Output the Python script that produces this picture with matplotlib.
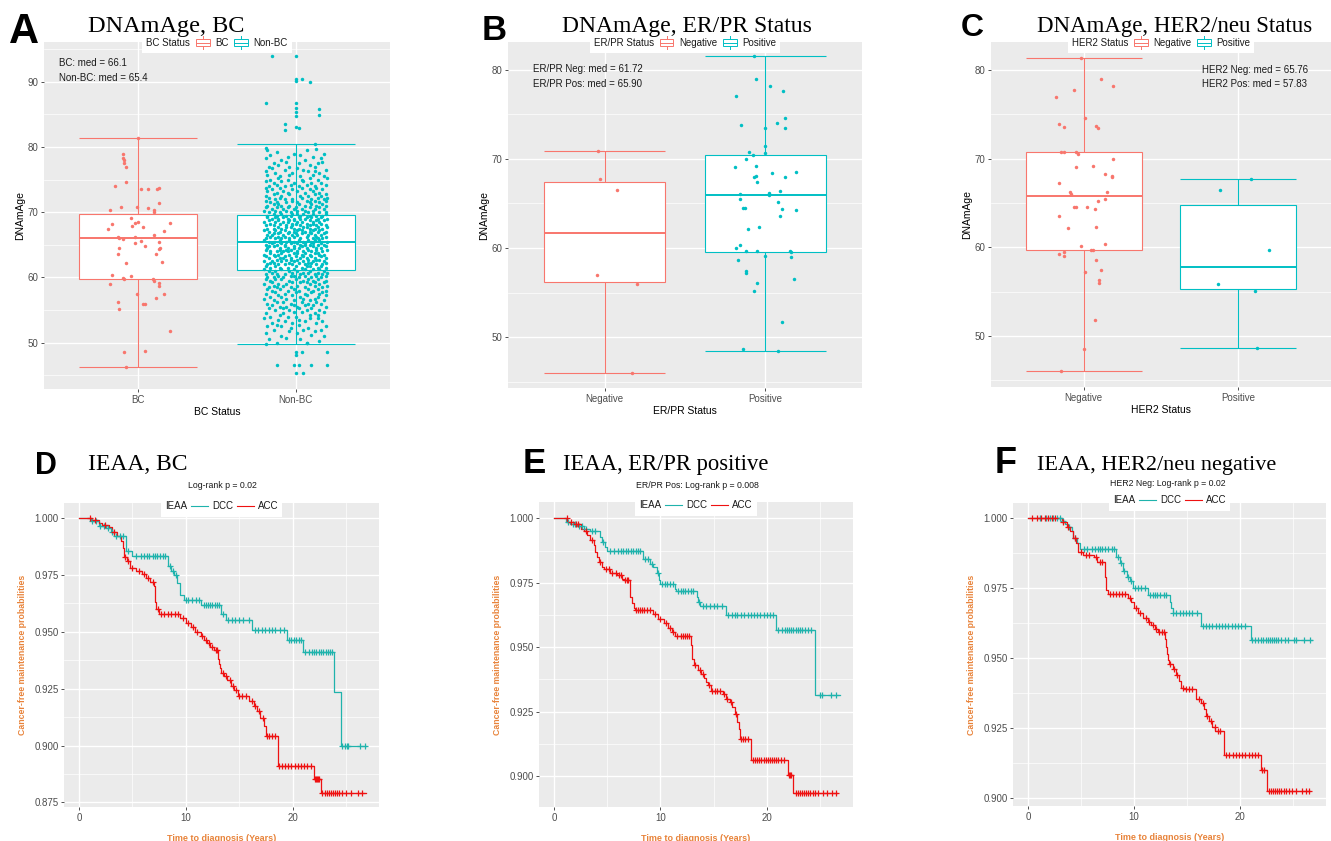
import numpy as np
import matplotlib.pyplot as plt
from matplotlib.patches import Rectangle
from matplotlib.lines import Line2D
from matplotlib.offsetbox import HPacker, TextArea, DrawingArea, AnchoredOffsetbox

W, H = 1331, 841
RED, TEAL = '#F8766D', '#00BFC4'
KM_TEAL, KM_RED = '#1FB3AC', '#EE1111'
ORANGE = '#E8833A'
SANS = ['Liberation Sans', 'DejaVu Sans']
SERIF = ['Liberation Serif', 'DejaVu Serif']

# ---------------- panel A: DNAmAge by BC status ----------------
a_cats = ['BC', 'Non-BC']
# (lower whisker, Q1, median, Q3, upper whisker)
a_stats = [(46.2, 59.7, 66.1, 69.8, 81.4), (49.8, 61.2, 65.4, 69.6, 80.4)]
a_bc_pts = [(0, 81.4), (-0.1, 79.0), (-0.1, 78.3), (-0.09, 78.0), (-0.09, 77.5), (-0.08, 77.0),
            (-0.08, 74.6), (-0.15, 74.0), (0.015, 73.5), (0.06, 73.5), (0.13, 73.7), (0.12, 73.5),
            (0.13, 71.4), (-0.11, 70.8), (-0.01, 70.8), (0.06, 70.7), (-0.18, 70.3), (0.1, 70.3),
            (0.1, 70.0), (-0.05, 69.1), (0, 68.5), (-0.02, 68.3), (-0.17, 68.2), (0.2, 68.4),
            (-0.04, 67.9), (0.03, 67.8), (-0.19, 67.5), (0.16, 67.2), (0.1, 66.5), (-0.13, 66.2),
            (-0.12, 66.0), (-0.02, 66.2), (-0.1, 65.9), (0.015, 65.6), (-0.02, 65.3), (0.13, 65.5),
            (0.04, 64.8), (-0.12, 64.5), (0.14, 64.5), (0.13, 64.3), (-0.13, 63.6), (0.11, 63.6),
            (-0.08, 62.2), (0.15, 62.3), (-0.17, 60.4), (-0.05, 60.2), (-0.1, 59.9), (-0.09, 59.8),
            (0.09, 59.7), (0.1, 59.5), (0.13, 59.2), (-0.18, 59.0), (0.13, 58.7), (-0.01, 57.5),
            (0.16, 57.4), (0.11, 56.9), (-0.13, 56.3), (0.03, 56.0), (0.04, 56.0), (-0.12, 55.2),
            (0.2, 51.8), (0.04, 48.8), (-0.09, 48.5), (-0.08, 46.2)]
# Non-BC cloud: DNAmAge value -> jitter offsets (hundredths of a category width)
a_nonbc_rows = {
    50.0: "-12 7", 50.25: "15", 50.5: "3 -17", 50.75: "-6", 51.0: "18 -9", 51.25: "10",
    51.5: "-19 1", 51.75: "-4 12", 52.0: "-14 5 16", 52.25: "-3 8", 52.5: "-9 19 -18",
    52.75: "2 -12", 53.0: "-2 13 -15", 53.25: "6 -7 17", 53.5: "-11 2", 53.75: "-20 9 14",
    54.0: "-5 -16 0", 54.25: "9 14 -10", 54.5: "12 -8 -19", 54.75: "4 18 -1",
    55.0: "-13 7 15 -4", 55.25: "-17 2 10 -8", 55.5: "1 -10 19 -6", 55.75: "11 -15 6 -1",
    56.0: "-18 -3 8 16", 56.25: "-12 13 4 -8", 56.5: "9 -14 -1 18", 56.75: "5 -20 12 -6",
    57.0: "-9 3 14 -16", 57.25: "-2 19 7 -11", 57.5: "15 -7 -19 6", 57.75: "0 10 -13 17",
    58.0: "-15 2 11 -5 19", 58.25: "-10 8 -18 14 -1", 58.5: "6 -12 17 -3 -17",
    58.75: "12 1 -8 20 -14", 59.0: "-20 -6 9 15 -11", 59.25: "3 -2 18 -15 7 12",
    59.5: "11 -16 -4 5 19", 59.75: "-9 14 -19 0 8 -13", 60.0: "-8 16 -14 2 10 -18",
    60.25: "6 -3 13 -11 19 -1", 60.5: "3 -19 12 -7 17 -12", 60.75: "-2 8 20 -15 5 14",
    61.0: "-13 9 -4 18 -17 1", 61.25: "11 -9 15 -20 6 -1", 61.5: "14 -10 4 -16 19 -5",
    61.75: "9 -13 0 16 -19 7", 62.0: "-11 6 17 -18 -2 13 -7", 62.25: "10 2 -14 19 -4 8 -16",
    62.5: "18 -15 -1 11 -9 5 -20", 62.75: "15 -6 8 1 -12 13 -3",
    63.0: "-3 12 -17 7 19 -10 3 -8", 63.25: "-13 16 -7 -19 10 0 5",
    63.5: "9 -20 15 -4 4 -14 18 -11", 63.75: "-9 -1 12 -16 6 14 1",
    64.0: "-16 1 10 -8 17 -12 5 -5", 64.25: "-19 13 -3 20 -6 8 -10",
    64.5: "13 -5 -18 7 -10 16 2 -1", 64.75: "-14 11 -1 19 -7 4 -17",
    65.0: "-7 18 -12 3 -19 9 14 6", 65.25: "-3 -15 6 -9 16 1 11",
    65.5: "5 -14 20 -6 10 -17 -1 -10", 65.75: "15 -10 8 -20 12 2 -4",
    66.0: "-19 11 -4 17 -9 3 -13 14", 66.25: "7 19 -16 13 -1 -7 -11",
    66.5: "16 -2 -15 8 -8 12 -18 1", 66.75: "4 -11 18 0 -5 10 -14",
    67.0: "-10 6 14 -17 19 -4 9 -1", 67.25: "-13 1 -20 15 -7 11 4",
    67.5: "2 -18 12 -9 17 -1 -14 9", 67.75: "7 20 -6 5 -11 14 -3",
    68.0: "-14 19 -6 9 -19 3 13 -2", 68.25: "-10 -2 16 -16 7 0 11",
    68.5: "11 -8 -20 4 15 -13 1 -5", 68.75: "18 -4 -17 9 -11 13 -1",
    69.0: "-5 14 -11 20 -15 6 -1 3", 69.25: "10 -18 2 16 -8 7 -13",
    69.5: "17 -12 3 -18 9 -6 13 -3", 69.75: "-2 19 -14 5 -9 11 1",
    70.0: "-17 8 -3 15 -10 19", 70.25: "-13 1 11 -20 6 -6", 70.5: "4 -15 18 -8 12 -1",
    70.75: "-19 9 -12 15 0 -5", 71.0: "-9 13 -18 6 19 -4", 71.25: "-14 10 2 -11 17",
    71.5: "15 -6 -16 1 9 -12", 71.75: "19 -2 -19 7 12", 72.0: "-2 18 -13 10 -7",
    72.25: "4 -17 14 -10 20", 72.5: "8 -19 3 16 -9", 72.75: "-4 12 -14 19",
    73.0: "-12 6 15 -5", 73.25: "-18 11 1 -8", 73.5: "17 -2 -15 9", 73.75: "-10 4 13 -19",
    74.0: "-7 12 -17 2", 74.25: "19 -12 7 -3", 74.5: "10 -14 -1 16", 74.75: "-9 5 -19",
    75.0: "-16 4 14 -5", 75.25: "20 -11 9", 75.5: "3 -10 18", 75.75: "-18 11 -4",
    76.0: "-13 15 -2", 76.25: "8 -19 12", 76.5: "19 -7 5", 76.75: "-15 1",
    77.0: "-4 12 -17", 77.25: "9 -11", 77.5: "14 -14 2", 77.75: "17 -6",
    78.0: "-9 6", 78.25: "-19 16", 78.5: "11 -5", 78.75: "-16 3",
    79.0: "-1 18", 79.25: "-12", 79.5: "7 -18", 79.75: "13",
}
a_nonbc_extra = [(-0.15, 93.9), (0, 93.9), (0, 90.5), (0, 90.1), (0.04, 90.4), (0.09, 89.9),
                 (-0.19, 86.7), (0, 86.7), (0, 86.0), (0, 85.4), (0, 84.8), (0.15, 85.8),
                 (0.15, 84.9), (-0.07, 83.5), (0, 83.1), (0.02, 82.9), (-0.07, 82.6), (0.12, 80.4),
                 (-0.19, 79.9), (-0.19, 49.8), (0.07, 49.9), (0, 48.5), (0.04, 48.5), (0.2, 48.5),
                 (0, 48.1), (-0.12, 46.6), (-0.01, 46.6), (0.02, 46.6), (0.1, 46.6), (0.2, 46.6),
                 (0, 45.3), (0.05, 45.3)]

# ---------------- panel B: ER/PR status ----------------
b_cats = ['Negative', 'Positive']
b_stats = [(46.0, 56.2, 61.72, 67.4, 70.9), (48.5, 59.6, 65.9, 70.4, 81.5)]
b_neg_pts = [(-0.04, 70.9), (-0.03, 67.7), (0.08, 66.5), (-0.05, 57.0), (0.2, 56.0), (0.17, 46.0)]
b_pos_pts = [(-0.07, 81.5), (-0.06, 79.0), (0.03, 78.2), (0.11, 77.6), (-0.18, 77.0), (0.12, 74.6),
             (0.07, 74.0), (-0.15, 73.8), (0, 73.5), (0.12, 73.5), (0, 71.4), (-0.1, 70.8),
             (0, 70.6), (-0.08, 70.4), (-0.12, 70.0), (-0.19, 69.1), (-0.06, 69.2), (0.04, 68.4),
             (0.19, 68.5), (-0.07, 68.0), (-0.06, 68.1), (0.12, 68.0), (-0.05, 67.4), (0.09, 66.4),
             (0.02, 66.2), (-0.16, 66.0), (0.02, 65.9), (-0.16, 65.5), (0.08, 65.2), (-0.14, 64.5),
             (-0.13, 64.5), (0.1, 64.4), (0.19, 64.3), (0.09, 63.6), (-0.04, 62.3), (-0.11, 62.1),
             (-0.16, 60.3), (-0.18, 60.0), (-0.12, 59.7), (-0.05, 59.7), (0.16, 59.6), (0.15, 59.7),
             (0, 59.1), (0.16, 59.0), (-0.17, 58.6), (-0.12, 57.4), (-0.12, 57.2), (0.18, 56.5),
             (-0.05, 56.1), (-0.07, 55.2), (0.1, 51.7), (-0.14, 48.7), (0.08, 48.5)]

# ---------------- panel C: HER2 status ----------------
c_cats = ['Negative', 'Positive']
c_stats = [(46.0, 59.7, 65.76, 70.8, 81.4), (48.7, 55.3, 57.83, 64.8, 67.7)]
c_neg_pts = [(-0.02, 81.4), (0.11, 79.0), (0.19, 78.2), (-0.06, 77.7), (-0.18, 77.0), (0.01, 74.6),
             (-0.16, 73.9), (-0.13, 73.6), (0.08, 73.7), (0.09, 73.4), (-0.15, 70.8), (-0.13, 70.7),
             (-0.05, 70.8), (-0.04, 70.5), (0.19, 70.0), (-0.05, 69.1), (0.06, 69.2), (0.14, 68.3),
             (0.18, 68.0), (0.18, 67.9), (-0.16, 67.2), (-0.09, 66.2), (-0.08, 66.0), (0.15, 66.2),
             (0.14, 65.5), (0.09, 65.2), (-0.06, 64.5), (-0.05, 64.5), (0.02, 64.6), (0.07, 64.3),
             (-0.16, 63.5), (-0.1, 62.2), (0.08, 62.3), (0.14, 60.4), (-0.02, 60.1), (0.05, 59.7),
             (0.06, 59.7), (-0.13, 59.5), (-0.16, 59.2), (-0.13, 59.0), (0.08, 58.6), (0.11, 57.4),
             (0.01, 57.2), (0.1, 56.3), (0.1, 56.0), (0.07, 51.8), (0, 48.5), (-0.15, 46.0)]
c_pos_pts = [(0.08, 67.7), (-0.12, 66.5), (0.2, 59.7), (-0.13, 55.9), (0.11, 55.1), (0.12, 48.7)]

# ---------------- panels D-F: Kaplan-Meier curves (DCC / ACC) ----------------
d_dcc_t = [0, 1.1, 1.9, 2.5, 3.0, 3.3, 4.4, 5.0, 8.3, 8.6, 8.9, 9.2, 9.5, 9.8, 11.4, 13.3, 13.75,
           16.25, 19.5, 21.0, 23.9, 24.5]
d_dcc_s = [1.0, 0.9985, 0.9966, 0.9955, 0.994, 0.992, 0.9857, 0.9833, 0.9787, 0.9765, 0.975,
           0.9713, 0.966, 0.964, 0.9618, 0.958, 0.9551, 0.951, 0.9463, 0.941, 0.9235, 0.8996]
d_dcc_cens = [1.2, 1.6, 2.0, 2.3, 2.7, 3.1, 3.5, 3.8, 4.1, 4.6, 5.3, 5.8, 6.1, 6.4, 6.6, 6.9, 7.1,
              7.3, 7.6, 7.9, 8.1, 8.5, 8.8, 9.1, 10.0, 10.2, 10.6, 11.0, 11.2, 11.7, 11.9, 12.1,
              12.3, 12.5, 12.7, 12.9, 13.1, 13.5, 14.0, 14.3, 14.6, 15.0, 15.4, 15.9, 16.5, 16.8,
              17.1, 17.4, 17.8, 18.1, 18.4, 18.8, 19.2, 19.7, 19.9, 20.1, 20.3, 20.6, 20.8, 21.2,
              21.5, 21.8, 22.0, 22.2, 22.5, 22.7, 22.9, 23.1, 23.3, 23.5, 23.7, 24.6, 24.9, 25.1,
              25.2, 26.3, 26.8]
d_acc_t = [0, 1.2, 1.9, 2.2, 2.8, 3.1, 3.6, 3.9, 4.1, 4.2, 4.5, 4.8, 5.3, 5.9, 6.25, 6.7, 7.0,
           7.1, 7.25, 7.5, 9.5, 10.0, 10.5, 10.9, 11.4, 11.7, 12.0, 12.3, 12.65, 13.0, 13.1, 13.2,
           13.3, 13.6, 13.9, 14.2, 14.5, 14.85, 15.9, 16.4, 16.7, 17.0, 17.3, 17.5, 18.6, 22.0,
           22.65]
d_acc_s = [1.0, 0.999, 0.998, 0.997, 0.996, 0.994, 0.992, 0.990, 0.987, 0.983, 0.981, 0.978,
           0.9765, 0.9755, 0.9735, 0.972, 0.970, 0.963, 0.960, 0.958, 0.956, 0.954, 0.952, 0.950,
           0.948, 0.9465, 0.945, 0.9435, 0.942, 0.938, 0.936, 0.934, 0.932, 0.9305, 0.929, 0.926,
           0.9245, 0.922, 0.9195, 0.9175, 0.915, 0.912, 0.9085, 0.904, 0.891, 0.8855, 0.879]
d_acc_cens = [1.0, 1.5, 2.4, 3.3, 4.3, 4.6, 5.0, 5.6, 6.1, 6.5, 6.9, 7.4, 7.7, 8.0, 8.3, 8.6, 9.0,
              9.3, 9.7, 10.2, 10.7, 11.1, 11.5, 11.9, 12.2, 12.5, 12.8, 12.9, 13.5, 13.8, 14.1,
              14.4, 14.7, 15.0, 15.3, 15.6, 16.2, 16.5, 16.9, 17.2, 17.6, 17.8, 18.1, 18.4, 18.7,
              19.0, 19.3, 19.6, 19.9, 20.2, 20.5, 20.8, 21.1, 21.4, 21.7, 22.1, 22.2, 22.3, 22.4,
              22.5, 22.8, 23.0, 23.2, 23.4, 23.6, 23.8, 24.0, 24.2, 24.4, 24.6, 25.0, 25.5, 26.1,
              26.5]

e_dcc_t = [0, 1.1, 1.55, 2.2, 2.8, 3.4, 4.35, 4.5, 4.8, 5.0, 8.35, 9.0, 9.35, 9.65, 9.9, 10.0,
           11.35, 11.5, 13.4, 13.55, 13.7, 16.2, 20.9, 24.5]
e_dcc_s = [1.0, 0.9985, 0.998, 0.997, 0.996, 0.995, 0.993, 0.991, 0.989, 0.9874, 0.9841, 0.9825,
           0.9812, 0.9789, 0.976, 0.9745, 0.9728, 0.9719, 0.9696, 0.9676, 0.9659, 0.9624, 0.9566,
           0.9313]
e_dcc_cens = [1.3, 1.8, 2.0, 2.4, 2.6, 3.0, 3.6, 3.9, 4.6, 5.3, 5.6, 6.0, 6.3, 6.5, 6.8, 7.0, 7.2,
              7.4, 7.7, 7.9, 8.1, 8.6, 8.8, 9.2, 9.8, 10.2, 10.4, 10.6, 10.9, 11.2, 11.7, 11.9,
              12.1, 12.3, 12.6, 12.9, 13.1, 13.6, 14.0, 14.3, 14.7, 15.0, 15.3, 15.8, 16.4, 16.7,
              17.0, 17.2, 17.6, 17.9, 18.2, 18.5, 18.8, 19.1, 19.4, 19.7, 20.0, 20.3, 20.6, 21.1,
              21.4, 21.7, 21.9, 22.1, 22.3, 22.5, 22.7, 22.9, 23.1, 23.3, 23.6, 23.9, 24.2, 25.0,
              25.2, 26.0, 26.5]
e_acc_t = [0, 1.25, 1.9, 2.5, 2.8, 3.1, 3.4, 3.75, 3.9, 4.05, 4.2, 4.5, 4.7, 5.3, 5.9, 6.4, 6.55,
           7.15, 7.3, 7.5, 7.6, 9.35, 9.8, 10.3, 10.75, 11.05, 11.4, 12.85, 12.95, 13.0, 13.15,
           13.55, 13.85, 14.1, 14.3, 14.5, 14.8, 15.9, 16.2, 16.5, 16.75, 17.0, 17.2, 17.4, 17.45,
           17.5, 18.5, 22.0, 22.5]
e_acc_s = [1.0, 0.9985, 0.998, 0.996, 0.995, 0.9935, 0.9916, 0.9896, 0.987, 0.9851, 0.9832,
           0.9812, 0.9802, 0.9789, 0.978, 0.9767, 0.976, 0.9696, 0.967, 0.9654, 0.9644, 0.9628,
           0.9611, 0.9596, 0.9573, 0.956, 0.9543, 0.9508, 0.9484, 0.9456, 0.943, 0.9411, 0.9395,
           0.9382, 0.9365, 0.9352, 0.933, 0.932, 0.93, 0.9288, 0.9268, 0.9242, 0.921, 0.9184,
           0.9164, 0.9145, 0.9061, 0.9003, 0.8934]
e_acc_cens = [1.2, 1.6, 2.1, 2.3, 3.0, 3.6, 4.3, 4.9, 5.2, 5.5, 5.8, 6.1, 6.3, 6.7, 6.9, 7.0, 7.7,
              7.9, 8.1, 8.3, 8.5, 8.7, 9.0, 9.5, 10.0, 10.5, 10.9, 11.2, 11.6, 11.9, 12.1, 12.3,
              12.5, 12.7, 13.3, 13.7, 14.0, 14.6, 14.9, 15.1, 15.3, 15.6, 16.0, 16.3, 16.6, 17.1,
              17.6, 17.8, 18.0, 18.2, 18.7, 18.9, 19.1, 19.3, 19.5, 19.7, 19.9, 20.1, 20.3, 20.5,
              20.7, 20.9, 21.1, 21.3, 21.6, 22.1, 22.2, 22.3, 22.7, 22.9, 23.1, 23.3, 23.5, 23.7,
              23.9, 24.1, 24.3, 24.5, 24.8, 25.3, 25.7, 26.1, 26.5]

f_dcc_t = [0, 3.2, 3.5, 3.8, 4.2, 4.3, 4.6, 4.9, 8.35, 8.65, 9.0, 9.3, 9.6, 9.9, 11.3, 13.4, 13.5,
           13.65, 16.3, 21.0]
f_dcc_s = [1.0, 0.999, 0.998, 0.997, 0.9955, 0.993, 0.991, 0.989, 0.986, 0.984, 0.981, 0.979,
           0.9775, 0.975, 0.9725, 0.970, 0.968, 0.966, 0.9615, 0.9565]
f_dcc_cens = [1.1, 1.7, 2.1, 2.4, 2.7, 3.0, 3.3, 3.9, 4.4, 5.3, 5.6, 6.0, 6.3, 6.6, 6.8, 7.0, 7.3,
              7.6, 7.9, 8.1, 8.5, 8.8, 9.1, 9.4, 9.7, 10.1, 10.4, 10.7, 11.0, 11.5, 11.8, 12.0,
              12.2, 12.5, 12.8, 13.0, 13.7, 14.0, 14.3, 14.6, 14.9, 15.2, 15.5, 15.9, 16.5, 16.8,
              17.1, 17.4, 17.7, 18.0, 18.3, 18.6, 18.9, 19.2, 19.5, 19.8, 20.1, 20.5, 21.1, 21.4,
              21.7, 22.0, 22.2, 22.4, 22.6, 22.8, 23.0, 23.2, 23.4, 23.6, 23.9, 24.2, 24.5, 25.1,
              25.3, 26.0, 26.6]
f_acc_t = [0, 3.2, 3.65, 4.0, 4.3, 4.5, 4.75, 5.2, 6.2, 6.5, 7.25, 7.35, 7.4, 7.55, 9.45, 9.75,
           10.05, 10.4, 10.85, 11.3, 11.6, 11.95, 12.25, 12.9, 13.0, 13.1, 13.2, 13.3, 13.65, 14.0,
           14.2, 14.45, 14.75, 15.85, 16.3, 16.6, 16.8, 17.1, 17.4, 17.65, 18.5, 22.0, 22.55]
f_acc_s = [1.0, 0.9985, 0.997, 0.9955, 0.993, 0.991, 0.988, 0.987, 0.986, 0.9845, 0.979, 0.976,
           0.9745, 0.973, 0.9715, 0.970, 0.968, 0.966, 0.9645, 0.963, 0.962, 0.9605, 0.9595, 0.957,
           0.954, 0.9515, 0.9495, 0.948, 0.946, 0.944, 0.942, 0.9395, 0.939, 0.9355, 0.934, 0.932,
           0.9295, 0.9275, 0.9255, 0.924, 0.9155, 0.910, 0.9025]
f_acc_cens = [0.4, 0.9, 1.2, 1.6, 1.9, 2.3, 2.6, 3.3, 3.8, 4.4, 5.0, 5.5, 5.8, 6.4, 6.8, 7.0, 7.7,
              8.0, 8.3, 8.6, 8.9, 9.2, 9.6, 10.2, 10.6, 11.1, 11.4, 11.8, 12.1, 12.4, 12.6, 12.8,
              13.4, 13.8, 14.1, 14.6, 14.9, 15.2, 15.5, 16.1, 16.5, 16.9, 17.3, 17.6, 17.9, 18.1,
              18.7, 19.0, 19.3, 19.6, 19.9, 20.2, 20.5, 20.8, 21.1, 21.4, 21.7, 22.1, 22.3, 22.7,
              22.9, 23.1, 23.3, 23.5, 23.7, 23.9, 24.1, 24.3, 24.6, 24.9, 25.3, 25.8, 26.2, 26.5]
km_end = {'D': (26.9, 26.9), 'E': (26.9, 26.6), 'F': (26.8, 26.6)}


def px_rect(x0, y0, x1, y1):
    return [x0 / W, 1 - y1 / H, (x1 - x0) / W, (y1 - y0) / H]


def gg_axes(fig, rect, yticks, yminor, xticks, xminor=None):
    ax = fig.add_axes(px_rect(*rect))
    ax.set_facecolor('#EBEBEB')
    for s in ax.spines.values():
        s.set_visible(False)
    ax.set_yticks(yticks)
    ax.set_yticks(yminor, minor=True)
    ax.set_xticks(xticks)
    if xminor is not None:
        ax.set_xticks(xminor, minor=True)
    ax.tick_params(length=2.5, width=0.6, color='#333333', labelcolor='#4D4D4D',
                   labelsize=7, pad=1.5)
    ax.tick_params(which='minor', length=0)
    ax.grid(True, which='major', color='white', lw=1.0)
    ax.grid(True, which='minor', color='white', lw=0.5)
    ax.set_axisbelow(True)
    for lab in ax.get_xticklabels() + ax.get_yticklabels():
        lab.set_family(SANS)
    return ax


def gg_legend(ax, title, labels, colors, kind, y):
    tp = dict(size=7, color='#1A1A1A', family=SANS)
    items = [TextArea(title, textprops=tp)]
    for lab, c in zip(labels, colors):
        da = DrawingArea(12, 9, 0, 0)
        if kind == 'box':
            da.add_artist(Line2D([6, 6], [0, 9], color=c, lw=0.7))
            da.add_artist(Rectangle((1, 2), 10, 5, facecolor='white', edgecolor=c, lw=0.7))
            da.add_artist(Line2D([1, 11], [4.5, 4.5], color=c, lw=0.7))
        else:
            da.add_artist(Line2D([0, 12], [4.5, 4.5], color=c, lw=0.8))
        items += [da, TextArea(lab, textprops=tp)]
    pack = HPacker(children=items, align='center', pad=0, sep=3)
    box = AnchoredOffsetbox(loc='lower center', child=pack, pad=0.3, borderpad=0, frameon=True,
                            bbox_to_anchor=(0.5, y), bbox_transform=ax.transAxes)
    box.patch.set_facecolor('white')
    box.patch.set_edgecolor('none')
    ax.add_artist(box)


def box_panel(fig, rect, cats, stats, groups, ylim, yticks, xlabel, leg_title, leg_y,
              notes, note_x, note_y):
    minor = [t + 5 for t in [40] + yticks]
    ax = gg_axes(fig, rect, yticks, minor, [1, 2])
    ax.set_xticklabels(cats)
    colors = [RED, TEAL]
    w = 0.75
    for i, (st, pts, c) in enumerate(zip(stats, groups, colors)):
        pos = i + 1
        lo, q1, med, q3, hi = st
        ax.vlines(pos, lo, hi, color=c, lw=0.8, zorder=2)
        ax.hlines([lo, hi], pos - w / 2, pos + w / 2, color=c, lw=0.8, zorder=2)
        ax.add_patch(Rectangle((pos - w / 2, q1), w, q3 - q1, facecolor='white', edgecolor=c,
                               lw=0.8, zorder=3))
        ax.hlines(med, pos - w / 2, pos + w / 2, color=c, lw=1.4, zorder=4)
        dx, y = np.array(pts).T
        ax.plot(pos + dx, y, 'o', ms=2.5, color=c, mec='none', zorder=5)
    ax.set_xlim(0.4, 2.6)
    ax.set_ylim(*ylim)
    ax.set_ylabel('DNAmAge', fontsize=7.5, family=SANS, labelpad=2)
    ax.set_xlabel(xlabel, fontsize=7.5, family=SANS, labelpad=1.5)
    gg_legend(ax, leg_title, cats, colors, 'box', leg_y)
    for k, txt in enumerate(notes):
        ax.text(note_x, note_y[k], txt, transform=ax.transAxes, fontsize=7, family=SANS,
                color='#1A1A1A', va='center', ha='left')
    return ax


def km_panel(fig, rect, curves, ylim, yticks, subtitle, sub_xy, leg_y):
    step = yticks[1] - yticks[0]
    yminor = [t - step / 2 for t in yticks] + [yticks[-1] + step / 2]
    ax = gg_axes(fig, rect, yticks, yminor, [0, 10, 20], [5, 15, 25])
    ax.set_yticklabels([f'{t:.3f}' for t in yticks])
    for times, surv, end, cens, c in curves:
        ax.step(list(times) + [end], list(surv) + [surv[-1]], where='post', color=c, lw=0.9,
                zorder=3)
        idx = np.searchsorted(times, cens, side='right') - 1
        ax.plot(cens, np.asarray(surv)[idx], '+', color=c, ms=5, mew=0.9, ls='none', zorder=4)
    ax.set_xlim(-1.4, 28.1)
    ax.set_ylim(*ylim)
    ax.set_ylabel('Cancer-free maintenance probabilities', fontsize=6.3, color=ORANGE,
                  weight='bold', family=SANS, labelpad=5)
    ax.set_xlabel('Time to diagnosis (Years)', fontsize=6.5, color=ORANGE, weight='bold',
                  family=SANS, labelpad=8)
    gg_legend(ax, 'IEAA', ['DCC', 'ACC'], [KM_TEAL, KM_RED], 'line', leg_y)
    fig.text(sub_xy[0] / W, 1 - sub_xy[1] / H, subtitle, fontsize=6.3, family=SANS,
             color='#1A1A1A', ha='center', va='center')
    return ax


def rows_to_points(rows):
    pts = []
    for y, offs in rows.items():
        for v in offs.split():
            pts.append((int(v) / 100, y))
    return pts


fig = plt.figure(figsize=(W / 100, H / 100), dpi=100)

box_panel(fig, (44, 42, 390, 389), a_cats, a_stats,
          [a_bc_pts, rows_to_points(a_nonbc_rows) + a_nonbc_extra],
          (42.9, 96.1), [50, 60, 70, 80, 90], 'BC Status', 'BC Status', 0.968,
          ['BC: med = 66.1', 'Non-BC: med = 65.4'], 0.043, [0.939, 0.896])
box_panel(fig, (508, 42, 862, 388), b_cats, b_stats, [b_neg_pts, b_pos_pts],
          (44.3, 83.1), [50, 60, 70, 80], 'ER/PR Status', 'ER/PR Status', 0.968,
          ['ER/PR Neg: med = 61.72', 'ER/PR Pos: med = 65.90'], 0.07, [0.922, 0.879])
box_panel(fig, (991, 42, 1331, 387), c_cats, c_stats, [c_neg_pts, c_pos_pts],
          (44.25, 83.15), [50, 60, 70, 80], 'HER2 Status', 'HER2 Status', 0.968,
          ['HER2 Neg: med = 65.76', 'HER2 Pos: med = 57.83'], 0.62, [0.919, 0.878])

km_panel(fig, (64, 503, 379, 807),
         [(d_dcc_t, d_dcc_s, km_end['D'][0], d_dcc_cens, KM_TEAL),
          (d_acc_t, d_acc_s, km_end['D'][1], d_acc_cens, KM_RED)],
         (0.873, 1.0066), [0.875, 0.900, 0.925, 0.950, 0.975, 1.000],
         'Log-rank p = 0.02', (222, 486), 0.955)
km_panel(fig, (539, 502, 853, 807),
         [(e_dcc_t, e_dcc_s, km_end['E'][0], e_dcc_cens, KM_TEAL),
          (e_acc_t, e_acc_s, km_end['E'][1], e_acc_cens, KM_RED)],
         (0.888, 1.0064), [0.900, 0.925, 0.950, 0.975, 1.000],
         'ER/PR Pos: Log-rank p = 0.008', (697, 486), 0.955)
km_panel(fig, (1013, 503, 1326, 806),
         [(f_dcc_t, f_dcc_s, km_end['F'][0], f_dcc_cens, KM_TEAL),
          (f_acc_t, f_acc_s, km_end['F'][1], f_acc_cens, KM_RED)],
         (0.8973, 1.0054), [0.900, 0.925, 0.950, 0.975, 1.000],
         'HER2 Neg: Log-rank p = 0.02', (1168, 484), 0.975)

# panel letters and titles (pixel positions: left edge, baseline)
letters = [('A', 9, 43, 30), ('B', 482, 40, 25), ('C', 961, 36, 23),
           ('D', 35, 474, 22), ('E', 523, 473, 25), ('F', 995, 473, 26)]
titles = [('DNAmAge, BC', 88, 32, 17.5), ('DNAmAge, ER/PR Status', 562, 32, 17),
          ('DNAmAge, HER2/neu Status', 1037, 32, 16.5), ('IEAA, BC', 88, 470, 17),
          ('IEAA, ER/PR positive', 563, 470, 16.3), ('IEAA, HER2/neu negative', 1037, 470, 16)]
for s, x, y, size in letters:
    fig.text(x / W, 1 - y / H, s, fontsize=size, weight='bold', family=SANS, va='baseline')
for s, x, y, size in titles:
    fig.text(x / W, 1 - y / H, s, fontsize=size, family=SERIF, va='baseline')

fig.savefig('out.png', dpi=100, facecolor='white')
